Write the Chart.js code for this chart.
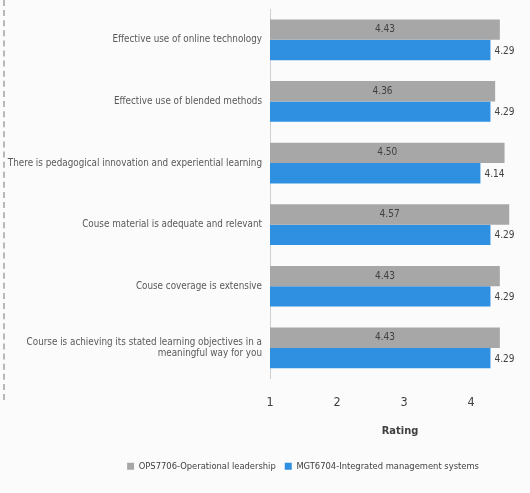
<!DOCTYPE html>
<html>
<head>
<meta charset="utf-8">
<script src="https://cdn.jsdelivr.net/npm/chart.js@4"></script>
<style>
  html, body { margin: 0; padding: 0; background: #fbfbfb; }
  #wrap { position: relative; width: 530px; height: 493px; }
  #dash { position: absolute; left: 3px; top: 0; height: 400px; border-left: 2px dashed #b8b8b8; }
</style>
</head>
<body>
<div id="wrap">
  <div id="dash"></div>
  <canvas id="c" width="530" height="493"></canvas>
</div>
<script>
const categories = [
  "Effective use of online technology",
  "Effective use of blended methods",
  "There is pedagogical innovation and experiential learning",
  "Couse material is adequate and relevant",
  "Couse coverage is extensive",
  ["Course is achieving its stated learning objectives in a", "meaningful way for you"]
];
const seriesNames = ["OPS7706-Operational leadership", "MGT6704-Integrated management systems"];
const opsValues = [4.43, 4.36, 4.50, 4.57, 4.43, 4.43];
const mgtValues = [4.29, 4.29, 4.14, 4.29, 4.29, 4.29];
const tickValues = [1, 2, 3, 4];

const FONT = "'Liberation Sans Narrow', 'DejaVu Sans Condensed', 'Liberation Sans', sans-serif";

const labelPlugin = {
  id: 'barLabels',
  afterDatasetsDraw(chart) {
    const ctx = chart.ctx;
    ctx.save();
    ctx.font = "10px " + FONT;
    ctx.fillStyle = "#404040";
    ctx.textBaseline = "middle";
    chart.data.datasets.forEach((ds, di) => {
      const meta = chart.getDatasetMeta(di);
      meta.data.forEach((bar, i) => {
        const txt = ds.data[i].toFixed(2);
        if (di === 0) {
          const left = Math.max(bar.base, chart.chartArea.left);
          ctx.textAlign = "center";
          ctx.fillText(txt, (bar.x + left) / 2, bar.y);
        } else {
          ctx.textAlign = "left";
          ctx.fillText(txt, bar.x + 4, bar.y + 1);
        }
      });
    });
    ctx.restore();
  }
};

const legendShift = {
  id: 'legendShift',
  afterLayout(chart) {
    const lg = chart.legend;
    if (lg) { lg.left += 38; lg.right += 38; }
  }
};

new Chart(document.getElementById('c'), {
  type: 'bar',
  data: {
    labels: categories,
    datasets: [
      { label: seriesNames[0], data: opsValues, backgroundColor: '#a7a7a7', categoryPercentage: 0.66, barPercentage: 1.0 },
      { label: seriesNames[1], data: mgtValues, backgroundColor: '#2f8fe0', categoryPercentage: 0.66, barPercentage: 1.0 }
    ]
  },
  options: {
    indexAxis: 'y',
    responsive: false,
    animation: false,
    layout: { padding: { left: 0, right: 0, top: 9, bottom: 12 } },
    scales: {
      x: {
        min: 1,
        max: 4.88,
        afterBuildTicks(scale) { scale.ticks = tickValues.map(v => ({ value: v })); },
        afterFit(scale) { scale.height = 74; scale.paddingLeft = 0; scale.paddingRight = 0; },
        grid: { display: false, drawTicks: false },
        border: { display: false },
        ticks: { color: '#404040', font: { family: FONT, size: 12.5 }, padding: 17 },
        title: { display: true, text: 'Rating', color: '#404040', font: { family: FONT, size: 11, weight: 'bold' }, padding: { top: 4, bottom: 15 } }
      },
      y: {
        afterFit(scale) { scale.width = 270; scale.paddingTop = 0; scale.paddingBottom = 0; },
        grid: { display: false, drawTicks: false },
        border: { display: true, color: '#d0d0d0', width: 1 },
        ticks: { color: '#595959', font: { family: FONT, size: 9.8 }, padding: 8 }
      }
    },
    plugins: {
      legend: {
        position: 'bottom',
        labels: { boxWidth: 7, boxHeight: 7, color: '#404040', font: { family: FONT, size: 9.3 }, padding: 9 }
      },
      tooltip: { enabled: false }
    }
  },
  plugins: [labelPlugin, legendShift]
});
</script>
</body>
</html>
